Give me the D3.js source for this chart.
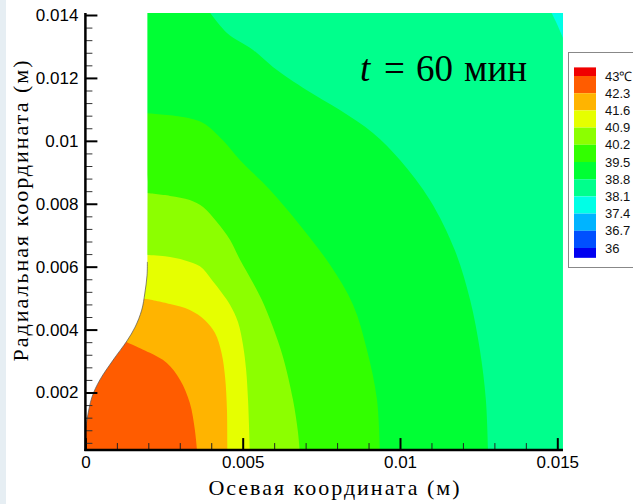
<!DOCTYPE html>
<html><head><meta charset="utf-8">
<script src="https://cdn.jsdelivr.net/npm/d3@7"></script>
<style>html,body{margin:0;padding:0;background:#fff;} svg{display:block}</style>
</head><body>
<svg id="chart" width="633" height="504"></svg>
<script>
// ---------- data (coordinates in mm) ----------
const xTickValues = [0, 5, 10, 15];
const xTickLabels = ["0", "0.005", "0.01", "0.015"];
const yTickValues = [2, 4, 6, 8, 10, 12, 14];
const yTickLabels = ["0.002", "0.004", "0.006", "0.008", "0.01", "0.012", "0.014"];
const xMinorTicks = [1, 2, 3, 4, 6, 7, 8, 9, 11, 12, 13, 14];
const yMinorTicks = [0.4, 0.8, 1.2, 1.6, 2.4, 2.8, 3.2, 3.6, 4.4, 4.8, 5.2, 5.6, 6.4, 6.8, 7.2, 7.6,
                     8.4, 8.8, 9.2, 9.6, 10.4, 10.8, 11.2, 11.6, 12.4, 12.8, 13.2, 13.6];

const legendLevels = [43, 42.3, 41.6, 40.9, 40.2, 39.5, 38.8, 38.1, 37.4, 36.7, 36];
const legendLabels = ["43\u2103", "42.3", "41.6", "40.9", "40.2", "39.5", "38.8", "38.1", "37.4", "36.7", "36"];
const legendColors = ["#f00000", "#ff5c00", "#ffb400", "#e6ff00", "#8cff00", "#32ff00",
                      "#00ff34", "#00ff8c", "#00ffe6", "#00b4ff", "#0050ff", "#0000f0"];

const domainXmm = [0, 15.18];
const domainYmm = [0.17, 14.06];

// left (white) cut-out edge of the computational domain
const cutoutEdge = [[0.00, 0.74], [0.05, 1.13], [0.21, 1.86], [0.46, 2.40], [0.88, 3.03], [1.32, 3.64],
                    [1.58, 4.08], [1.79, 4.62], [1.89, 5.16], [1.96, 5.73], [1.97, 6.15], [1.97, 14.3]];

// isotherms, from the bottom (axis) to their upper-left end
const iso423 = [[3.56, 0], [3.48, 0.81], [3.32, 1.67], [3.01, 2.40], [2.59, 2.94], [2.05, 3.26], [1.74, 3.41], [1.32, 3.60]];
const iso416 = [[4.51, 0], [4.50, 1.44], [4.44, 2.49], [4.33, 3.25], [4.12, 3.89], [3.80, 4.30], [3.32, 4.62], [2.69, 4.81], [1.96, 4.97]];
const iso409 = [[5.23, 0], [5.20, 0.97], [5.17, 1.76], [5.11, 2.71], [5.01, 3.51], [4.85, 4.24], [4.60, 4.78], [4.34, 5.16],
                [4.02, 5.58], [3.64, 6.01], [3.17, 6.20], [2.53, 6.33], [1.96, 6.37]];
const iso402 = [[6.82, 0], [6.76, 0.71], [6.60, 1.76], [6.28, 3.13], [5.96, 4.08], [5.61, 4.94], [5.33, 5.48], [4.92, 6.21],
                [4.60, 6.85], [4.18, 7.42], [3.74, 7.90], [3.32, 8.12], [2.69, 8.25], [1.96, 8.34]];
const iso395 = [[9.36, 0], [9.27, 1.76], [8.95, 3.35], [8.51, 4.78], [7.78, 6.05], [6.82, 7.32], [5.87, 8.44], [4.91, 9.39],
                [4.37, 10.02], [3.74, 10.57], [3.10, 10.76], [1.96, 10.88]];
const iso388 = [[12.80, 0], [12.73, 1.76], [12.54, 3.35], [12.23, 4.94], [11.74, 6.53], [10.95, 8.12], [10.00, 9.39],
                [9.14, 10.25], [8.09, 10.98], [7.04, 11.61], [5.96, 12.35], [5.33, 12.89], [4.50, 13.43], [3.87, 14.2]];
const iso381 = [[14.80, 14.1], [14.96, 13.78], [15.18, 13.27], [15.30, 13.0]];

// ---------- layout ----------
const svg = d3.select("#chart");
const x = d3.scaleLinear().domain([0, 15]).range([85.4, 557.3]);
const y = d3.scaleLinear().domain([2, 14]).range([392.5, 15]);
const line = d3.line().x(d => x(d[0])).y(d => y(d[1])).curve(d3.curveCatmullRom.alpha(0.5));

// left light strip
svg.append("rect").attr("x", 0).attr("y", 0).attr("width", 6).attr("height", 504).attr("fill", "#e6eef3");

// clip
svg.append("defs").append("clipPath").attr("id", "dom").append("rect")
  .attr("x", x(domainXmm[0])).attr("y", y(domainYmm[1]))
  .attr("width", x(domainXmm[1]) - x(domainXmm[0]))
  .attr("height", y(domainYmm[0]) - y(domainYmm[1]));

const g = svg.append("g").attr("clip-path", "url(#dom)");
g.append("rect").attr("x", x(-1)).attr("y", y(15)).attr("width", x(17) - x(-1)).attr("height", y(-1) - y(15))
  .attr("fill", legendColors[7]);

function bandPath(pts) {
  const last = pts[pts.length - 1];
  return line(pts) + `L${x(-1)},${y(last[1])}L${x(-1)},${y(-1)}L${x(pts[0][0])},${y(-1)}Z`;
}
const bands = [[iso388, legendColors[6]], [iso395, legendColors[5]], [iso402, legendColors[4]],
               [iso409, legendColors[3]], [iso416, legendColors[2]], [iso423, legendColors[1]]];
bands.forEach(([pts, c]) => g.append("path").attr("d", bandPath(pts)).attr("fill", c));

// cyan corner
g.append("path")
  .attr("d", line(iso381) + `L${x(15.6)},${y(13.0)}L${x(15.6)},${y(14.6)}L${x(14.7)},${y(14.6)}Z`)
  .attr("fill", legendColors[8]);

// white cut-out
svg.append("path")
  .attr("d", line(cutoutEdge) + `L${x(0)},${y(14.3)}Z`)
  .attr("fill", "#fff");
svg.append("path")
  .attr("d", line(cutoutEdge.slice(0, 11)))
  .attr("fill", "none").attr("stroke", "#555").attr("stroke-width", 0.7);

// ---------- axes ----------
const fontSans = "'Liberation Sans', Arial, sans-serif";
const fontSerif = "'Liberation Serif', 'Times New Roman', serif";

const xAxis = d3.axisBottom(x).tickValues(xTickValues).tickFormat((d, i) => xTickLabels[i])
  .tickSizeInner(-12).tickSizeOuter(0).tickPadding(6);
const gx = svg.append("g").attr("transform", `translate(0,${y(domainYmm[0])})`).call(xAxis);
gx.select(".domain").remove();
gx.selectAll(".tick line").attr("stroke", "#000").attr("stroke-width", 2);
gx.selectAll(".tick text").attr("font-family", fontSans).attr("font-size", 17).attr("fill", "#000");

const xMinor = d3.axisBottom(x).tickValues(xMinorTicks).tickFormat(() => "").tickSizeInner(-7).tickSizeOuter(0);
const gxm = svg.append("g").attr("transform", `translate(0,${y(domainYmm[0])})`).call(xMinor);
gxm.select(".domain").remove();
gxm.selectAll(".tick line").attr("stroke", "#222").attr("stroke-width", 1);

const yAxis = d3.axisLeft(y).tickValues(yTickValues).tickFormat((d, i) => yTickLabels[i])
  .tickSizeInner(-12).tickSizeOuter(0).tickPadding(7);
const gy = svg.append("g").attr("transform", `translate(${x(0)},0)`).call(yAxis);
gy.select(".domain").remove();
gy.selectAll(".tick line").attr("stroke", "#000").attr("stroke-width", 2);
gy.selectAll(".tick text").attr("font-family", fontSans).attr("font-size", 17).attr("fill", "#000");

const yMinor = d3.axisLeft(y).tickValues(yMinorTicks).tickFormat(() => "").tickSizeInner(-7).tickSizeOuter(0);
const gym = svg.append("g").attr("transform", `translate(${x(0)},0)`).call(yMinor);
gym.select(".domain").remove();
gym.selectAll(".tick line").attr("stroke", "#333").attr("stroke-width", 1);

// axis lines
svg.append("line").attr("x1", x(0) - 1).attr("x2", x(domainXmm[1])).attr("y1", y(domainYmm[0])).attr("y2", y(domainYmm[0]))
  .attr("stroke", "#000").attr("stroke-width", 2.5);
svg.append("line").attr("x1", x(0)).attr("x2", x(0)).attr("y1", y(domainYmm[0]) + 1).attr("y2", y(domainYmm[1]))
  .attr("stroke", "#000").attr("stroke-width", 2.5);

// axis titles
svg.append("text").attr("x", 335).attr("y", 495).attr("text-anchor", "middle")
  .attr("font-family", fontSerif).attr("font-size", 22).attr("letter-spacing", 2)
  .text("Осевая координата (м)");
svg.append("text").attr("transform", "translate(28,210) rotate(-90)").attr("text-anchor", "middle")
  .attr("font-family", fontSerif).attr("font-size", 22).attr("letter-spacing", 2)
  .text("Радиальная координата (м)");

// title
const title = svg.append("text").attr("y", 81).attr("font-family", fontSerif).attr("font-size", 37).attr("fill", "#000");
title.append("tspan").attr("x", 360).attr("font-style", "italic").text("t");
title.append("tspan").attr("x", 384).text("=");
title.append("tspan").attr("x", 416).text("60");
title.append("tspan").attr("x", 464).text("мин");

// ---------- legend ----------
const ly = d3.scaleLinear().domain([43, 36]).range([76, 248]);
svg.append("rect").attr("x", 568.5).attr("y", 52.5).attr("width", 80).attr("height", 215)
  .attr("fill", "#fff").attr("stroke", "#888").attr("stroke-width", 1);
const legTop = [43.35].concat(legendLevels);
const legBot = legendLevels.concat([35.6]);
svg.append("g").selectAll("rect").data(legendColors).join("rect")
  .attr("x", 574).attr("width", 22)
  .attr("y", (d, i) => ly(legTop[i]))
  .attr("height", (d, i) => ly(legBot[i]) - ly(legTop[i]))
  .attr("fill", d => d);
svg.append("g").selectAll("text").data(legendLabels).join("text")
  .attr("x", 605).attr("y", (d, i) => ly(legendLevels[i]))
  .attr("dy", "0.35em")
  .attr("font-family", fontSans).attr("font-size", 13).attr("fill", "#111")
  .text(d => d);
</script>
</body></html>
